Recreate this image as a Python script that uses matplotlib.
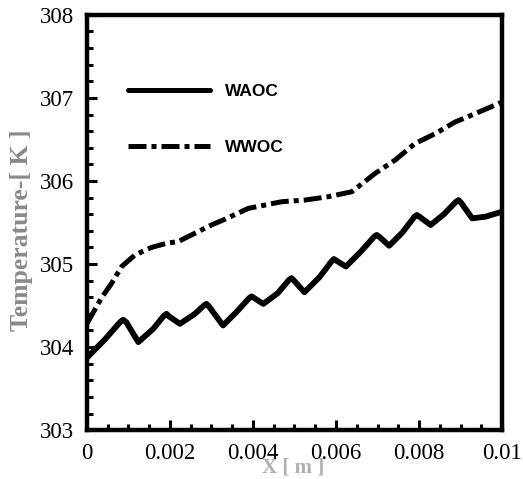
import numpy as np
import matplotlib
matplotlib.use("Agg")
import matplotlib.pyplot as plt
from matplotlib.ticker import MultipleLocator, FixedFormatter, FixedLocator

# WAOC (solid)
x_waoc = [0.0, 0.00045, 0.00080, 0.000875, 0.00095, 0.00124, 0.0016, 0.00186, 0.00192,
          0.00198, 0.00224, 0.0026, 0.00282, 0.00288, 0.00294, 0.00328, 0.0036, 0.00391,
          0.00397, 0.00403, 0.00425, 0.0046, 0.00487, 0.00493, 0.00499, 0.00524, 0.0056,
          0.00589, 0.00595, 0.00601, 0.00624, 0.0066, 0.00692, 0.00698, 0.00704, 0.00728,
          0.0076, 0.00789, 0.00795, 0.00801, 0.00828, 0.0086, 0.00889, 0.00895, 0.00901,
          0.00928, 0.0096, 0.01]
t_waoc = [303.87, 304.10, 304.30, 304.33, 304.30, 304.06, 304.22, 304.38, 304.40,
          304.37, 304.28, 304.40, 304.50, 304.52, 304.49, 304.26, 304.42, 304.59,
          304.61, 304.59, 304.52, 304.65, 304.81, 304.83, 304.80, 304.66, 304.84,
          305.03, 305.06, 305.04, 304.97, 305.15, 305.33, 305.35, 305.33, 305.22,
          305.38, 305.57, 305.59, 305.57, 305.47, 305.60, 305.75, 305.77, 305.74,
          305.55, 305.57, 305.63]

# WWOC (dash-dot)
x_wwoc = [0.0, 0.00035, 0.0006, 0.00084, 0.00116, 0.00156, 0.00192, 0.0022, 0.0026,
          0.0030, 0.00333, 0.00389, 0.00469, 0.00525, 0.00581, 0.00638, 0.00694,
          0.00742, 0.0079, 0.00839, 0.00887, 0.00935, 0.01]
t_wwoc = [304.28, 304.59, 304.77, 304.97, 305.11, 305.20, 305.25, 305.27, 305.37,
          305.47, 305.54, 305.67, 305.75, 305.77, 305.81, 305.87, 306.09,
          306.25, 306.45, 306.57, 306.71, 306.81, 306.95]

x_ticks = [0, 0.002, 0.004, 0.006, 0.008, 0.01]
x_tick_labels = ["0", "0.002", "0.004", "0.006", "0.008", "0.01"]
y_ticks = [303, 304, 305, 306, 307, 308]


def main() -> None:
    fig = plt.figure(figsize=(5.23, 4.79), dpi=100)
    ax = fig.add_axes([0.166, 0.102, 0.794, 0.867])

    ax.plot(x_waoc, t_waoc, color="black", lw=4.2, solid_joinstyle="round",
            solid_capstyle="round", label="WAOC")
    ax.plot(x_wwoc, t_wwoc, color="black", lw=3.6, dashes=(3.6, 1.0, 1.0, 1.0),
            dash_capstyle="butt", label="WWOC")

    ax.set_xlim(0, 0.01)
    ax.set_ylim(303, 308)

    ax.xaxis.set_major_locator(FixedLocator(x_ticks))
    ax.xaxis.set_major_formatter(FixedFormatter(x_tick_labels))
    ax.xaxis.set_minor_locator(MultipleLocator(0.0005))
    ax.yaxis.set_major_locator(FixedLocator(y_ticks))
    ax.yaxis.set_minor_locator(MultipleLocator(0.2))

    for s in ax.spines.values():
        s.set_linewidth(3.2)

    ax.tick_params(which="both", direction="in", top=False, right=False, width=2.2)
    ax.tick_params(which="major", length=7.5, pad=9)
    ax.tick_params(which="minor", length=4.5)
    for lab in ax.get_xticklabels() + ax.get_yticklabels():
        lab.set_fontfamily("Liberation Serif")
        lab.set_fontsize(16.5)

    ax.set_ylabel("Temperature-[ K ]", fontfamily="Liberation Serif", fontweight="bold",
                  fontsize=18.5, color="#8a8a8a")
    ax.yaxis.set_label_coords(-0.13, 0.482)

    # x label sits at the very bottom edge, as in the reference
    fig.text(0.56, 0.003, "X [ m ]", ha="center", va="bottom",
             fontfamily="Liberation Serif", fontweight="bold", fontsize=15,
             color="#b0b0b0")

    leg = ax.legend(loc="upper left", bbox_to_anchor=(0.099, 0.833), frameon=False,
                    handlelength=4.7, handletextpad=0.9, labelspacing=2.33,
                    borderpad=0, borderaxespad=0,
                    prop={"family": "Liberation Sans", "weight": "bold", "size": 12.5})
    for line in leg.get_lines():
        line.set_linewidth(3.6)

    fig.savefig("out.png", dpi=100)


if __name__ == "__main__":
    main()
